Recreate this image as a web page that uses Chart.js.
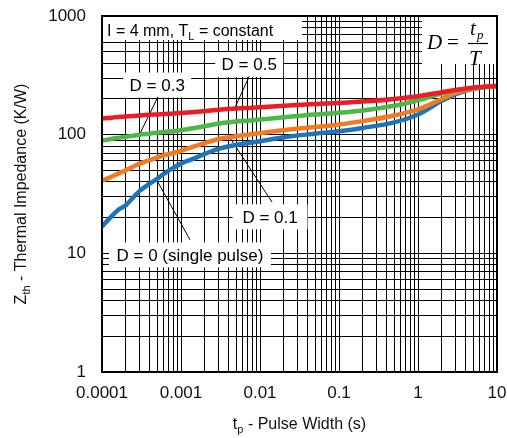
<!DOCTYPE html>
<html lang="en">
<head>
  <meta charset="UTF-8" />
  <title>Thermal impedance vs pulse width</title>
  <style>
    body{margin:0;background:#fff}
    canvas{display:block}
  </style>
</head>
<body>
  <canvas id="chart" width="507" height="438"></canvas>

  <script src="https://cdn.jsdelivr.net/npm/chart.js"></script>
  <script>
  /* ---------- data ---------- */
  const pulseWidth = [1e-4,1.3e-4,1.6e-4,2e-4,2.5e-4,3e-4,4e-4,5e-4,6e-4,8e-4,
                      1e-3,1.5e-3,2e-3,3e-3,5e-3,7e-3,1e-2,2e-2,5e-2,0.1,
                      0.2,0.5,1,2,3,5,7,10];
  const zthD05 = [137,139,141,142,143.5,145,147,148,149,151,
                  152,155,158,162,166,168,170,175,181,185,
                  190,200,211,228,238,249,253,257];
  const zthD03 = [89,92,94,96,98,100,102,104,105.5,107,
                  109,114,118,124,129,131,134,140,148,153,
                  160,175,195,222,236,248,253,257];
  const zthD01 = [41,44,47,50,54,57,61,64,67,70,
                  73,80,85,92,97,100,103,109,116,122,
                  130,145,163,200,225,245,252,257];
  const zthD0  = [16.8,20.3,23.2,25.4,29.8,33.6,38.6,42.5,46.5,52.5,
                  57,63.5,69,76,82,85,88,95,102,107,
                  114,127,148,193,220,243,252,257];
  const xTickLabels = ['0.0001','0.001','0.01','0.1','1','10'];
  const yTickLabels = ['1','10','100','1000'];

  const pts = ys => pulseWidth.map((x,i)=>({x, y:ys[i]}));

  /* log grid: 1..9 x each decade */
  function logTicks(scale, minExp, maxExp){
    const t=[];
    for(let e=minExp;e<maxExp;e++)
      for(let s=1;s<10;s++) t.push({value:+(s*Math.pow(10,e)).toPrecision(6), major:s===1});
    t.push({value:Math.pow(10,maxExp), major:true});
    scale.ticks=t;
  }
  const label = (list, minExp) => (v => {
    const e=Math.log10(v), r=Math.round(e);
    return Math.abs(e-r)<1e-6 ? list[r-minExp] : '';
  });
  // let tick labels overhang the canvas padding instead of shrinking the plot
  const noPad = s => { s.paddingLeft=s.paddingRight=s.paddingTop=s.paddingBottom=0; };

  /* ---------- annotations ---------- */
  const callouts = [
    {text:'D = 0.5', x:7.3e-3, y:390, w:68, from:[7.3e-3,310], to:[4.8e-3,168]},
    {text:'D = 0.3', x:5.0e-4, y:262, w:68, from:[5.1e-4,208], to:[3.0e-4,101]},
    {text:'D = 0.1', x:1.34e-2, y:20.3, w:75, from:[1.42e-2,27], to:[4.17e-3,94]},
    {text:'D = 0 (single pulse)', x:1.3e-3, y:9.7, w:162, from:[1.3e-3,13], to:[4.97e-4,41]},
  ];
  const FONT='"Liberation Sans", Arial, sans-serif';

  const decor={
    id:'decor',
    beforeDatasetsDraw(chart){
      const {ctx, chartArea:a, scales:{x,y}}=chart;
      ctx.save();
      ctx.fillStyle='#fff';
      // top-left condition box and formula box
      ctx.fillRect(a.left, a.top, 302-a.left, 24);
      ctx.fillRect(a.right-75, a.top, 75, 48);
      callouts.forEach(c=>{
        const cx=x.getPixelForValue(c.x), cy=y.getPixelForValue(c.y);
        ctx.fillStyle='#fff';
        ctx.fillRect(cx-c.w/2, cy-12.5, c.w, 25);
      });
      // leader lines
      ctx.strokeStyle='#000'; ctx.lineWidth=1;
      callouts.forEach(c=>{
        ctx.beginPath();
        ctx.moveTo(x.getPixelForValue(c.from[0]), y.getPixelForValue(c.from[1]));
        ctx.lineTo(x.getPixelForValue(c.to[0]), y.getPixelForValue(c.to[1]));
        ctx.stroke();
      });
      // callout text
      ctx.fillStyle='#000'; ctx.font='17px '+FONT;
      ctx.textAlign='center'; ctx.textBaseline='middle';
      callouts.forEach(c=>ctx.fillText(c.text, x.getPixelForValue(c.x), y.getPixelForValue(c.y)+1));

      // "I = 4 mm, T_L = constant"
      ctx.textAlign='left'; ctx.textBaseline='alphabetic';
      ctx.font='16px '+FONT;
      let px=a.left+5, base=a.top+19.5;
      ctx.fillText('I = 4 mm, T', px, base); px+=ctx.measureText('I = 4 mm, T').width;
      ctx.font='11px '+FONT; ctx.fillText('L', px, base+4); px+=ctx.measureText('L').width;
      ctx.font='16px '+FONT; ctx.fillText(' = constant', px, base);

      // D = t_p / T
      const serif='"Liberation Serif", "DejaVu Serif", serif';
      const fx=a.right-70;
      ctx.font='italic 21px '+serif; ctx.fillText('D', fx, a.top+33);
      ctx.font='21px '+serif; ctx.fillText('=', fx+20, a.top+33);
      ctx.beginPath(); ctx.lineWidth=1.2;
      ctx.moveTo(fx+41, a.top+27.5); ctx.lineTo(fx+61, a.top+27.5); ctx.stroke();
      ctx.font='italic 21px '+serif; ctx.fillText('t', fx+43, a.top+19);
      ctx.font='italic 13px '+serif; ctx.fillText('p', fx+50, a.top+23);
      ctx.font='italic 21px '+serif; ctx.fillText('T', fx+42, a.top+49);
      ctx.restore();
    },
    afterDraw(chart){
      const {ctx, chartArea:a}=chart;
      ctx.save();
      ctx.strokeStyle='#000'; ctx.lineWidth=2;
      ctx.strokeRect(a.left, a.top, a.right-a.left, a.bottom-a.top);

      ctx.fillStyle='#111'; ctx.textBaseline='middle'; ctx.textAlign='left';
      // x axis title: t_p - Pulse Width (s)
      const big='16px '+FONT, small='11px '+FONT;
      ctx.font=big; const w1=ctx.measureText('t').width, w3=ctx.measureText(' - Pulse Width (s)').width;
      ctx.font=small; const w2=ctx.measureText('p').width;
      let px=(a.left+a.right)/2 - (w1+w2+w3)/2, py=425;
      ctx.font=big; ctx.fillText('t', px, py); px+=w1;
      ctx.font=small; ctx.fillText('p', px, py+5); px+=w2;
      ctx.font=big; ctx.fillText(' - Pulse Width (s)', px, py);

      // y axis title: Z_th - Thermal Impedance (K/W)
      ctx.translate(22, (a.top+a.bottom)/2); ctx.rotate(-Math.PI/2);
      ctx.font=big; const v1=ctx.measureText('Z').width, v3=ctx.measureText(' - Thermal Impedance (K/W)').width;
      ctx.font=small; const v2=ctx.measureText('th').width;
      px=-(v1+v2+v3)/2;
      ctx.font=big; ctx.fillText('Z', px, 0); px+=v1;
      ctx.font=small; ctx.fillText('th', px, 5); px+=v2;
      ctx.font=big; ctx.fillText(' - Thermal Impedance (K/W)', px, 0);
      ctx.restore();
    }
  };

  /* ---------- chart ---------- */
  const line = (lbl, ys, color) => ({label:lbl, data:pts(ys), borderColor:color,
    borderWidth:4.5, pointRadius:0, fill:false, cubicInterpolationMode:'monotone'});

  new Chart(document.getElementById('chart'), {
    type:'line',
    data:{datasets:[
      line('D = 0.5', zthD05, '#ED1C24'),
      line('D = 0.3', zthD03, '#4CB848'),
      line('D = 0.1', zthD01, '#F47A20'),
      line('D = 0',   zthD0,  '#1C75BC'),
    ]},
    options:{
      responsive:false, animation:false,
      layout:{padding:{top:16, right:10, left:0, bottom:0}},
      plugins:{legend:{display:false}, tooltip:{enabled:false}},
      scales:{
        x:{type:'logarithmic', min:1e-4, max:10,
           afterBuildTicks:s=>logTicks(s,-4,1),
           afterFit:s=>{s.height=66; noPad(s);},
           grid:{color:'#000', lineWidth:1, drawTicks:false},
           border:{display:false},
           ticks:{autoSkip:false, maxRotation:0, padding:11, color:'#111',
                  font:{family:FONT, size:17}, callback:label(xTickLabels,-4)}},
        y:{type:'logarithmic', min:1, max:1000,
           afterBuildTicks:s=>logTicks(s,0,3),
           afterFit:s=>{s.width=102; noPad(s);},
           grid:{color:'#000', lineWidth:1, drawTicks:false},
           border:{display:false},
           ticks:{autoSkip:false, padding:16, color:'#111',
                  font:{family:FONT, size:17}, callback:label(yTickLabels,0)}}
      }
    },
    plugins:[decor]
  });
  </script>
</body>
</html>
